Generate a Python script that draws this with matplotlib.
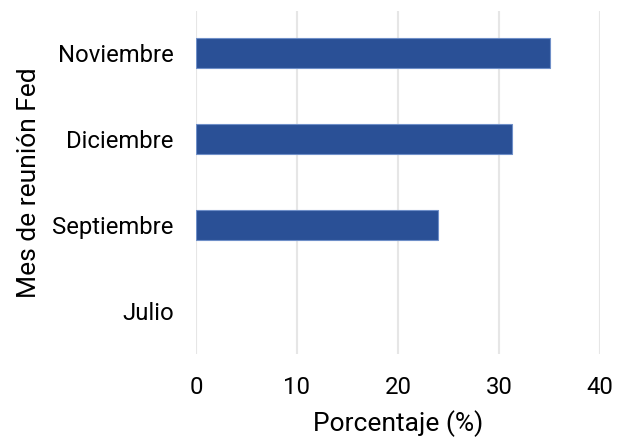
import matplotlib.pyplot as plt

meses = ["Julio", "Septiembre", "Diciembre", "Noviembre"]
porcentaje = [0.0, 24.0, 31.3, 35.0]
ticks_x = [0, 10, 20, 30, 40]

plt.rcParams['font.family'] = ['Roboto', 'DejaVu Sans']

fig = plt.figure(figsize=(6.23, 4.38), dpi=100)
ax = fig.add_axes([0.3146, 0.192, 0.6485, 0.784])

# sin borde en las barras de valor cero
anchos_borde = [0.8 if v > 0 else 0 for v in porcentaje]
ax.barh(meses, porcentaje, height=0.35, color='#2a5096',
        edgecolor='#6f8fc8', linewidth=anchos_borde, zorder=3)

ax.set_xlim(0, 40)
ax.set_ylim(-0.5, 3.5)
ax.set_xticks(ticks_x)
ax.grid(axis='x', color='#e6e6e6', linewidth=1.5, zorder=0)
ax.grid(axis='y', visible=False)
for s in ax.spines.values():
    s.set_visible(False)
ax.tick_params(axis='both', length=0, labelsize=17.2, pad=16)

ax.set_xlabel("Porcentaje (%)", fontsize=19, labelpad=8)
ax.set_ylabel("Mes de reunión Fed", fontsize=19, labelpad=8)

fig.savefig("out.png", dpi=100, facecolor='white')
